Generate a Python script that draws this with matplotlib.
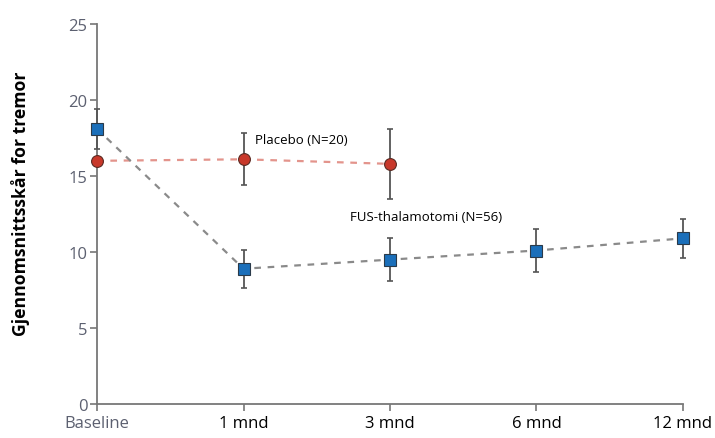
import matplotlib.pyplot as plt
import numpy as np

plt.rcParams['font.family'] = ['Open Sans', 'DejaVu Sans']

tidspunkt = ["Baseline", "1 mnd", "3 mnd", "6 mnd", "12 mnd"]

# FUS-thalamotomi (N=56)
fus_mean = [18.1, 8.9, 9.5, 10.1, 10.9]
fus_err = [1.3, 1.25, 1.4, 1.4, 1.3]

# Placebo (N=20)
placebo_mean = [16.0, 16.1, 15.8]
placebo_err = [0.0, 1.7, 2.3]

x_fus = np.arange(len(fus_mean))
x_pla = np.arange(len(placebo_mean))

fig = plt.figure(figsize=(7.15, 4.39), dpi=100)
ax = fig.add_axes([0.1357, 0.0774, 0.8195, 0.8656])

# linjer
ax.plot(x_pla, placebo_mean, ls=(0, (3, 3)), color="#e3948c", lw=1.6, zorder=2, clip_on=False)
ax.plot(x_fus, fus_mean, ls=(0, (3, 3)), color="#8a8a8a", lw=1.6, zorder=2, clip_on=False)

# feilstolper
ax.errorbar(x_pla, placebo_mean, yerr=placebo_err, fmt="none", ecolor="#555555",
            elinewidth=1.3, capsize=2.5, capthick=1.2, zorder=3, clip_on=False)
ax.errorbar(x_fus, fus_mean, yerr=fus_err, fmt="none", ecolor="#555555",
            elinewidth=1.3, capsize=2.5, capthick=1.2, zorder=3, clip_on=False)

# markører
ax.plot(x_pla, placebo_mean, "o", ms=8.5, mfc="#c8382a", mec="#5a2a22", mew=0.8,
        ls="none", zorder=4, clip_on=False)
ax.plot(x_fus, fus_mean, "s", ms=8, mfc="#1b6fba", mec="#2a3a4a", mew=0.8,
        ls="none", zorder=4, clip_on=False)

ax.text(1.08, 17.4, "Placebo (N=20)", fontsize=9.5, va="center", ha="left")
ax.text(1.73, 12.35, "FUS-thalamotomi (N=56)", fontsize=9.5, va="center", ha="left")

ax.set_xlim(0, 4)
ax.set_ylim(0, 25)
ax.set_yticks([0, 5, 10, 15, 20, 25])
ax.set_xticks(range(len(tidspunkt)))
ax.set_xticklabels(tidspunkt)

for s in ["top", "right"]:
    ax.spines[s].set_visible(False)
for s in ["left", "bottom"]:
    ax.spines[s].set_color("#777777")
    ax.spines[s].set_linewidth(1.3)

ax.tick_params(axis="both", length=5, width=1.2, color="#777777")
ax.tick_params(axis="y", labelsize=12, labelcolor="#5c6070", pad=2)
ax.tick_params(axis="x", labelsize=12, labelcolor="black", pad=3)
labels = ax.get_xticklabels()
labels[0].set_color("#5c6070")
labels[0].set_fontsize(12)

ax.set_ylabel("Gjennomsnittsskår for tremor", fontsize=12.7, fontweight="bold", labelpad=27)
ax.yaxis.set_label_coords(-0.115, 0.53)

fig.savefig("out.png", dpi=100)
